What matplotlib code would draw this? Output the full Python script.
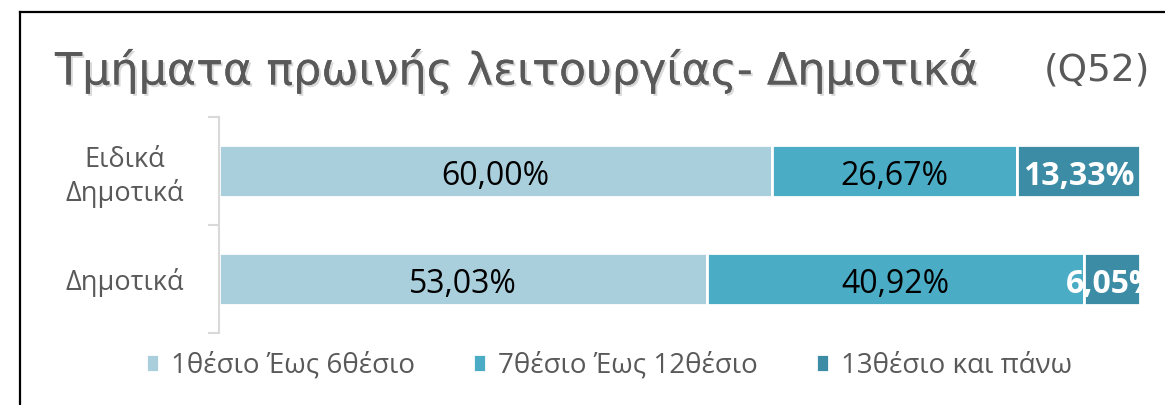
import matplotlib
matplotlib.use("Agg")
import matplotlib.pyplot as plt
import matplotlib.patheffects as pe
from matplotlib.lines import Line2D

# data
categories = ["Ειδικά\nΔημοτικά", "Δημοτικά"]
series = ["1θέσιο Έως 6θέσιο", "7θέσιο Έως 12θέσιο", "13θέσιο και πάνω"]
values = [
    [60.00, 53.03],
    [26.67, 40.92],
    [13.33, 6.05],
]
colors = ["#A9CFDD", "#4BACC6", "#3C8CA6"]
label_colors = ["black", "black", "white"]
label_weights = ["normal", "normal", "bold"]

plt.rcParams["font.family"] = ["Open Sans", "DejaVu Sans"]

fig = plt.figure(figsize=(11.65, 4.05), dpi=100)
ax = fig.add_axes([219 / 1165, 1 - 333 / 405, 921 / 1165, 216 / 405])

y = list(range(len(categories)))
left = [0] * len(categories)
for i, name in enumerate(series):
    bars = ax.barh(y, values[i], left=left, height=0.48, color=colors[i],
                   edgecolor="white", linewidth=2, label=name)
    for b, v in zip(bars, values[i]):
        t = ax.text(b.get_x() + b.get_width() / 2, b.get_y() + b.get_height() / 2 + 0.05,
                    f"{v:.2f}%".replace(".", ","), ha="center", va="center",
                    fontsize=23, color=label_colors[i], weight=label_weights[i])
        t.set_clip_on(True)
    left = [l + v for l, v in zip(left, values[i])]

ax.set_xlim(0, 100)
ax.set_ylim(1.5, -0.5)
ax.set_yticks(y)
ax.set_yticklabels(categories, fontsize=19.5, color="#595959", linespacing=1.25,
                   ha="center")
ax.set_yticks([-0.5, 0.5, 1.5], minor=True)
ax.tick_params(axis="y", which="major", length=0, pad=68)
ax.tick_params(axis="y", which="minor", length=8, color="#D9D9D9", width=1.5)
ax.set_xticks([])
for s in ["top", "right", "bottom"]:
    ax.spines[s].set_visible(False)
ax.spines["left"].set_color("#D9D9D9")
ax.spines["left"].set_linewidth(1.5)

fig.text(55 / 1165, 1 - 71 / 405, "Τμήματα πρωινής λειτουργίας- Δημοτικά",
         fontsize=32, color="#595959", va="center", ha="left",
         family=["DejaVu Sans"],
         path_effects=[pe.withSimplePatchShadow(offset=(1.5, -1.5), shadow_rgbFace="#000000", alpha=0.15),
                       pe.Normal()])
fig.text(1150 / 1165, 1 - 71 / 405, "(Q52)", fontsize=27, color="#595959",
         va="center", ha="right", family=["DejaVu Sans"])

leg = fig.legend(loc="center", bbox_to_anchor=(0.523, 1 - 366 / 405), ncol=3,
                 frameon=False, fontsize=20, handlelength=0.45, handleheight=0.6,
                 columnspacing=2.1, handletextpad=0.45)
for txt in leg.get_texts():
    txt.set_color("#595959")

# chart frame
fig.add_artist(Line2D([20 / 1165, 20 / 1165], [0, 1 - 12 / 405], color="black", lw=1.6))
fig.add_artist(Line2D([20 / 1165, 1], [1 - 12 / 405, 1 - 12 / 405], color="black", lw=1.6))

fig.savefig("out.png", dpi=100)
